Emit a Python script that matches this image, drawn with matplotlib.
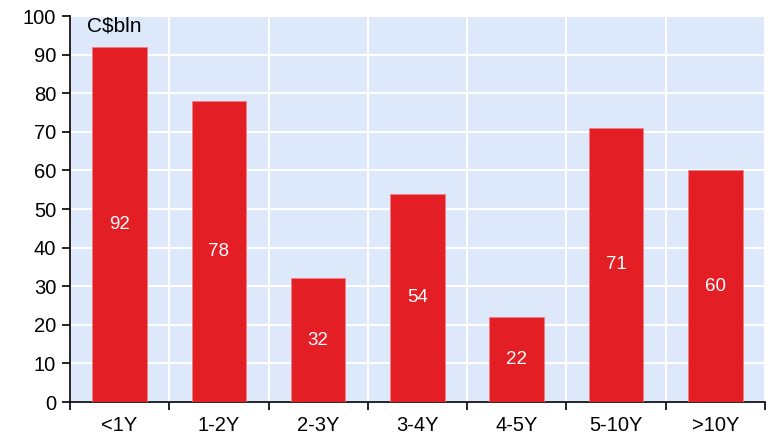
import matplotlib
matplotlib.use("Agg")
import matplotlib.pyplot as plt
import numpy as np

plt.rcParams.update({
    "font.family": ["Liberation Sans", "DejaVu Sans"],
    "font.size": 14.5,
})

categories = ["<1Y", "1-2Y", "2-3Y", "3-4Y", "4-5Y", "5-10Y", ">10Y"]
values = [92, 78, 32, 54, 22, 71, 60]
unit_label = "C$bln"

fig = plt.figure(figsize=(7.75, 4.41), dpi=100)
ax = fig.add_axes([0.0903, 0.0884, 0.8967, 0.8753])
ax.set_facecolor("#dde9fb")

x = np.arange(len(categories))
bars = ax.bar(x, values, width=0.55, color="#e31e24", edgecolor="#ee7f83",
              linewidth=0.6, zorder=3)

for xi, v in zip(x, values):
    ax.text(xi, v / 2, str(v), ha="center", va="center", color="white",
            fontsize=13.5, zorder=4)

ax.set_xlim(-0.5, len(categories) - 0.5)
ax.set_ylim(0, 100)
ax.set_yticks(np.arange(0, 101, 10))

# category ticks sit on the boundaries, labels in the middle
ax.set_xticks(np.arange(-0.5, len(categories), 1.0))
ax.set_xticklabels([])
ax.set_xticks(x, minor=True)
ax.set_xticklabels(categories, minor=True)
ax.tick_params(axis="x", which="minor", length=0, pad=10)
ax.tick_params(axis="x", which="major", direction="out", length=6, width=1.2)
ax.tick_params(axis="y", direction="out", length=6, width=1.2, pad=4)

ax.grid(True, which="major", color="white", linewidth=1.5, zorder=1)
ax.set_axisbelow(True)

for side in ["top", "right"]:
    ax.spines[side].set_visible(False)
for side in ["left", "bottom"]:
    ax.spines[side].set_linewidth(1.2)

ax.text(0.025, 0.998, unit_label, transform=ax.transAxes, ha="left", va="top",
        fontsize=15)

fig.savefig("out.png", dpi=100)
